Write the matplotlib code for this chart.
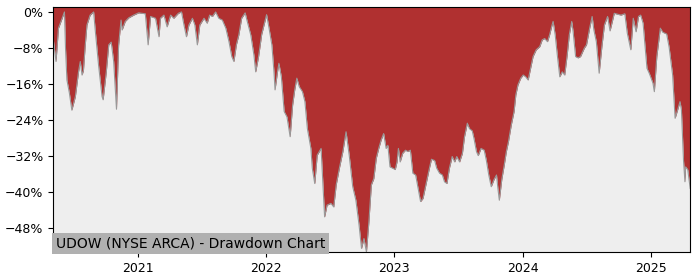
import pandas as pd
import matplotlib
matplotlib.use("Agg")
import matplotlib.pyplot as plt
import matplotlib.dates as mdates
from matplotlib.ticker import PercentFormatter

# drawdown of UDOW in percent
dates = [
    "2020-05-06", "2020-05-14", "2020-05-21", "2020-05-31", "2020-06-07", "2020-06-10",
    "2020-06-14", "2020-06-21", "2020-06-28", "2020-07-08", "2020-07-17", "2020-07-22",
    "2020-07-27", "2020-07-31", "2020-08-05", "2020-08-10", "2020-08-19", "2020-08-29",
    "2020-09-03", "2020-09-12", "2020-09-22", "2020-09-25", "2020-10-04", "2020-10-11",
    "2020-10-18", "2020-10-25", "2020-11-02", "2020-11-08", "2020-11-15", "2020-11-18",
    "2020-11-27", "2020-12-07", "2020-12-21",
    "2021-01-04", "2021-01-23", "2021-01-31", "2021-02-07", "2021-02-21", "2021-03-03",
    "2021-03-07", "2021-03-17", "2021-03-26", "2021-04-05", "2021-04-14", "2021-04-27",
    "2021-05-06", "2021-05-13", "2021-05-20", "2021-05-27", "2021-06-06", "2021-06-13",
    "2021-06-20", "2021-06-27", "2021-07-09", "2021-07-18", "2021-07-25", "2021-08-02",
    "2021-08-11", "2021-08-20", "2021-08-30", "2021-09-09", "2021-09-18", "2021-09-26",
    "2021-10-02", "2021-10-09", "2021-10-16", "2021-10-24", "2021-11-03", "2021-11-09",
    "2021-11-19", "2021-11-28", "2021-12-03", "2021-12-11", "2021-12-20",
    "2022-01-03", "2022-01-10", "2022-01-18", "2022-01-24", "2022-01-27", "2022-02-03",
    "2022-02-07", "2022-02-14", "2022-02-22", "2022-03-02", "2022-03-11", "2022-03-18",
    "2022-03-24", "2022-03-30", "2022-04-06", "2022-04-15", "2022-04-22", "2022-04-29",
    "2022-05-09", "2022-05-13", "2022-05-20", "2022-05-27", "2022-06-07", "2022-06-13",
    "2022-06-17", "2022-06-24", "2022-07-05", "2022-07-13", "2022-07-20", "2022-07-29",
    "2022-08-08", "2022-08-17", "2022-08-26", "2022-09-05", "2022-09-14", "2022-09-23",
    "2022-09-30", "2022-10-07", "2022-10-14", "2022-10-21", "2022-10-28", "2022-11-04",
    "2022-11-11", "2022-11-18", "2022-11-25", "2022-12-02", "2022-12-09", "2022-12-14",
    "2022-12-20", "2022-12-28",
    "2023-01-04", "2023-01-09", "2023-01-13", "2023-01-18", "2023-01-25", "2023-02-02",
    "2023-02-09", "2023-02-16", "2023-02-23", "2023-03-03", "2023-03-10", "2023-03-17",
    "2023-03-24", "2023-04-03", "2023-04-10", "2023-04-17", "2023-04-26", "2023-05-02",
    "2023-05-10", "2023-05-18", "2023-05-24", "2023-05-31", "2023-06-07", "2023-06-15",
    "2023-06-22", "2023-06-28", "2023-07-06", "2023-07-14", "2023-07-20", "2023-07-28",
    "2023-08-03", "2023-08-11", "2023-08-16", "2023-08-23", "2023-08-28", "2023-09-05",
    "2023-09-14", "2023-09-20", "2023-09-27", "2023-10-04", "2023-10-12", "2023-10-19",
    "2023-10-23", "2023-10-27", "2023-11-03", "2023-11-10", "2023-11-16", "2023-11-22",
    "2023-11-30", "2023-12-08", "2023-12-13", "2023-12-19", "2023-12-27",
    "2024-01-03", "2024-01-10", "2024-01-17", "2024-01-24", "2024-01-31", "2024-02-09",
    "2024-02-19", "2024-02-26", "2024-03-04", "2024-03-12", "2024-03-18", "2024-03-25",
    "2024-03-28", "2024-04-03", "2024-04-09", "2024-04-16", "2024-04-23", "2024-04-30",
    "2024-05-07", "2024-05-13", "2024-05-20", "2024-05-24", "2024-05-31", "2024-06-07",
    "2024-06-14", "2024-06-25", "2024-07-01", "2024-07-10", "2024-07-17", "2024-07-22",
    "2024-07-29", "2024-08-06", "2024-08-14", "2024-08-21", "2024-08-30", "2024-09-06",
    "2024-09-18", "2024-09-27", "2024-10-07", "2024-10-18", "2024-10-25", "2024-11-04",
    "2024-11-11", "2024-11-19", "2024-11-26", "2024-12-02", "2024-12-09", "2024-12-13",
    "2024-12-20", "2024-12-27",
    "2025-01-06", "2025-01-10", "2025-01-17", "2025-01-27", "2025-02-03", "2025-02-14",
    "2025-02-21", "2025-03-03", "2025-03-10", "2025-03-17", "2025-03-24", "2025-03-28",
    "2025-04-03", "2025-04-07", "2025-04-09", "2025-04-15", "2025-04-22",
]

drawdown = [
    -5.9, -11.0, -3.6, -1.5, 0.0, -8.0,
    -15.1, -18.0, -21.8, -18.8, -13.3, -11.0,
    -14.0, -13.0, -7.5, -2.9, -0.7, 0.0,
    -4.4, -11.8, -18.8, -19.5, -13.3, -7.3,
    -6.7, -11.0, -21.6, -7.4, -1.8, -4.0,
    -2.1, -1.3, -0.7,
    -0.2, -0.4, -7.3, -1.0, -1.4, -5.5,
    -1.4, -0.7, -3.3, -0.7, -1.4, -0.3,
    0.0, -2.9, -5.5, -2.9, -1.4, -2.9,
    -7.3, -2.9, -1.4, -2.5, -0.7, -1.0,
    0.0, -1.4, -1.8, -3.6, -6.6, -9.9,
    -11.0, -7.3, -5.1, -1.4, -0.2, -2.1,
    -5.1, -9.6, -13.3, -10.0, -5.0,
    -0.6, -3.6, -7.3, -13.3, -17.3, -13.3,
    -11.4, -14.4, -22.1, -23.3, -27.7, -20.7,
    -17.3, -14.7, -16.6, -17.7, -19.9, -25.9,
    -30.3, -34.7, -38.1, -31.8, -30.3, -39.2,
    -45.5, -42.9, -42.5, -43.3, -38.4, -34.7,
    -31.0, -26.6, -31.8, -38.8, -41.8, -47.3,
    -52.5, -50.3, -53.3, -46.6, -38.4, -37.0,
    -32.5, -30.3, -28.4, -27.0, -30.3, -29.6,
    -34.4, -34.7,
    -35.0, -33.3, -30.3, -33.3, -31.4, -30.7,
    -31.0, -30.7, -35.8, -36.2, -39.2, -42.1,
    -41.4, -37.7, -35.1, -32.7, -33.0, -34.7,
    -35.8, -36.2, -37.7, -38.1, -34.7, -32.1,
    -33.3, -32.1, -33.3, -31.4, -27.7, -24.7,
    -25.9, -26.4, -28.1, -31.0, -31.9, -30.3,
    -30.7, -32.9, -36.2, -38.8, -37.2, -36.2,
    -39.2, -41.8, -37.2, -34.0, -31.0, -28.8,
    -25.1, -22.1, -18.4, -16.2, -14.7,
    -14.0, -14.4, -15.1, -12.5, -9.9, -8.4,
    -7.7, -6.2, -5.9, -6.6, -5.1, -2.9,
    -2.1, -5.1, -9.6, -14.4, -13.3, -14.0,
    -9.6, -5.1, -2.1, -4.4, -9.9, -10.2,
    -9.9, -8.0, -7.3, -3.6, -1.0, -4.0,
    -6.6, -13.6, -7.5, -2.9, -1.0, -4.2,
    -0.3, -0.5, -0.7, -0.4, -4.7, -8.4,
    -1.4, -4.4, -1.0, -0.7, -2.5, -6.2,
    -12.5, -13.7,
    -15.8, -17.7, -9.9, -3.6, -4.5, -4.9,
    -7.8, -14.0, -23.6, -21.8, -19.9, -21.7,
    -33.0, -37.7, -34.4, -35.0, -39.2,
]

yticks = [0, -8, -16, -24, -32, -40, -48]
title = "UDOW (NYSE ARCA) - Drawdown Chart"

x = pd.to_datetime(dates)
ymin, ymax = -53.3, 1.1

fig = plt.figure(figsize=(7, 2.8), dpi=100)
ax = fig.add_axes([0.076, 0.1, 0.91, 0.875])

ax.set_facecolor("#b03030")
ax.fill_between(x, drawdown, ymin, color="#eeeeee", linewidth=0)
ax.plot(x, drawdown, color="#999999", linewidth=0.8)

ax.set_ylim(ymin, ymax)
ax.set_xlim(x[0], x[-1])
ax.set_yticks(yticks)
ax.yaxis.set_major_formatter(PercentFormatter(decimals=0))
ax.xaxis.set_major_locator(mdates.YearLocator())
ax.xaxis.set_major_formatter(mdates.DateFormatter("%Y"))
ax.tick_params(labelsize=9)

ax.text(0.004, 0.005, title, transform=ax.transAxes, fontsize=10,
        ha="left", va="bottom",
        bbox=dict(facecolor="#b0b0b0", edgecolor="none", pad=2.5))

fig.savefig("out.png", dpi=100)
